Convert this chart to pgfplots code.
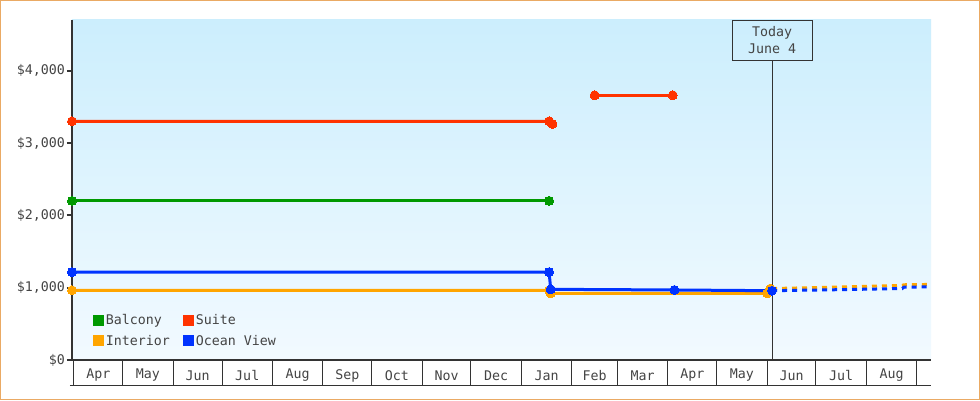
\documentclass[border=0pt]{standalone}
\usepackage{pgfplots}
\pgfplotsset{compat=1.18}
\usepackage{fontspec}
\setmainfont{DejaVu Sans Mono}
\definecolor{bordercol}{RGB}{234,170,100}
\definecolor{axcol}{RGB}{51,51,51}
\definecolor{labcol}{RGB}{68,68,68}
\definecolor{bgtop}{RGB}{204,238,253}
\definecolor{bgbot}{RGB}{242,250,255}
\definecolor{cGreen}{RGB}{0,153,0}
\definecolor{cRed}{RGB}{255,51,0}
\definecolor{cOrange}{RGB}{255,165,0}
\definecolor{cBlue}{RGB}{0,51,255}
\begin{document}
\fontsize{13pt}{17pt}\selectfont
\begin{tikzpicture}[x=1pt,y=1pt]
\fill[white] (0,0) rectangle (980,400);
\draw[bordercol, line width=1pt] (0.5,0.5) rectangle (979.5,399.5);
\begin{axis}[
  at={(72pt,40pt)}, anchor=south west, scale only axis,
  width=859pt, height=340pt,
  xmin=-1.2, xmax=526.7, ymin=0, ymax=4700,
  clip=false,
  axis lines*=left,
  axis line style={draw=axcol, line width=2pt},
  axis background/.style={top color=bgtop, bottom color=bgbot},
  tick align=outside,
  major tick length=5pt,
  ytick={0,1000,2000,3000,4000},
  yticklabels={{\$0},{\$1,000},{\$2,000},{\$3,000},{\$4,000}},
  ytick style={draw=axcol, line width=2pt},
  yticklabel style={font=\fontsize{13.3pt}{15pt}\selectfont, text=labcol, inner sep=2pt},
  xtick={15,45.5,76,106.5,137.5,168,198.5,229,259.5,290.5,320,349.5,380,410.5,441,471.5,502.5},
  xticklabels={Apr,May,Jun,Jul,Aug,Sep,Oct,Nov,Dec,Jan,Feb,Mar,Apr,May,Jun,Jul,Aug},
  xtick style={draw=none},
  xticklabel style={font=\fontsize{13.3pt}{15pt}\selectfont, text=labcol, anchor=center, yshift=-10.5pt},
  legend columns=2,
  legend cell align=left,
  legend style={at={(axis description cs:0.0245,0.138)}, anchor=north west, draw=none, fill=none,
    font=\fontsize{13.3pt}{15pt}\selectfont, text=labcol, inner sep=0pt,
    nodes={inner sep=1.5pt}, row sep=5pt,
    /tikz/every even column/.append style={column sep=12pt}},
  legend image code/.code={\fill[#1] (0pt,-5.5pt) rectangle (11pt,5.5pt);},
]
% today line
\draw[axcol, line width=1pt] (axis cs:429,0) -- (axis cs:429,4147);
\node[draw=axcol, line width=1pt, minimum width=80pt, minimum height=40pt, align=center, anchor=north, inner sep=0pt, text=labcol, font=\fontsize{13.3pt}{17pt}\selectfont] at (axis cs:429,4700) {Today\\June 4};

% month cells
\pgfplotsinvokeforeach{0,30,61,91,122,153,183,214,244,275,306,334,365,395,426,456,487,518}{
  \draw[axcol, line width=1pt] (axis cs:#1,0) -- ([yshift=-25pt]axis cs:#1,0);
}
\draw[axcol, line width=1pt] ([xshift=-2pt,yshift=-25pt]axis cs:-1.2,0) -- ([yshift=-25pt]axis cs:526.7,0);

\addlegendimage{fill=cGreen, draw=none}\addlegendentry{Balcony}
\addlegendimage{fill=cRed, draw=none}\addlegendentry{Suite}
\addlegendimage{fill=cOrange, draw=none}\addlegendentry{Interior}
\addlegendimage{fill=cBlue, draw=none}\addlegendentry{Ocean View}

% Balcony
\addplot[forget plot, cGreen, line width=3pt, mark=*, mark size=4.5pt, mark options={fill=cGreen, draw=cGreen, line width=0pt}] coordinates {(-1.2,2200) (292,2200)};
% Suite
\addplot[forget plot, cRed, line width=3pt, mark=*, mark size=4.5pt, mark options={fill=cRed, draw=cRed, line width=0pt}] coordinates {(-1.2,3300) (292,3300) (294,3263)};
\addplot[forget plot, cRed, line width=3pt, mark=*, mark size=4.5pt, mark options={fill=cRed, draw=cRed, line width=0pt}] coordinates {(320,3660) (368,3660)};
% Interior
\addplot[forget plot, cOrange, line width=3pt, mark=*, mark size=4.5pt, mark options={fill=cOrange, draw=cOrange, line width=0pt}] coordinates {(-1.2,964) (292,964) (293,922) (426,922)};
\addplot[forget plot, cOrange, line width=3pt, dash pattern=on 5pt off 5pt] coordinates {(429,988) (470,1008) (509,1030) (510,1040) (527,1045)};
\addplot[forget plot, cOrange, only marks, mark=*, mark size=4.5pt, mark options={fill=cOrange, draw=cOrange, line width=0pt}] coordinates {(428,988)};
% Ocean View
\addplot[forget plot, cBlue, line width=3pt, mark=*, mark size=4.5pt, mark options={fill=cBlue, draw=cBlue, line width=0pt}] coordinates {(-1.2,1215) (292,1215) (293,977) (369,968) (429,958)};
\addplot[forget plot, cBlue, line width=3pt, dash pattern=on 5pt off 5pt] coordinates {(429,958) (470,972) (509,988) (510,1006) (527,1012)};
\end{axis}
\end{tikzpicture}
\end{document}
